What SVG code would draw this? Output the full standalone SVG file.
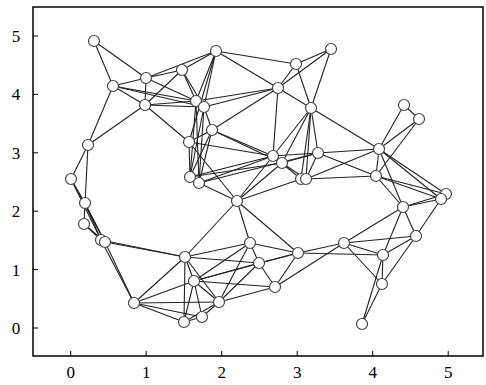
<svg xmlns="http://www.w3.org/2000/svg" width="486" height="385" viewBox="0 0 486 385">
<style>
.e{stroke:#222;stroke-width:1.1;fill:none}
.n{fill:#fff;stroke:#444;stroke-width:1.2}
.ax{stroke:#000;stroke-width:1.5;fill:none}
.tk{stroke:#000;stroke-width:1}
.lb{font-family:"Liberation Serif","Times New Roman",serif;font-size:17px;fill:#000}
</style>
<rect width="486" height="385" fill="#fff"/>
<g id="axes">
<rect class="ax" x="33" y="7" width="450" height="349"/>
<path class="tk" d="M70.7 356v-5M146.2 356v-5M221.7 356v-5M297.2 356v-5M372.7 356v-5M448.2 356v-5M33 328h5M33 269.6h5M33 211.2h5M33 152.8h5M33 94.4h5M33 36h5"/>
<g class="lb" text-anchor="middle">
<text x="70.7" y="378">0</text><text x="146.2" y="378">1</text><text x="221.7" y="378">2</text><text x="297.2" y="378">3</text><text x="372.7" y="378">4</text><text x="448.2" y="378">5</text>
<text x="16" y="334">0</text><text x="16" y="275.6">1</text><text x="16" y="217.2">2</text><text x="16" y="158.8">3</text><text x="16" y="100.4">4</text><text x="16" y="42">5</text>
</g>
</g>
<g id="connectors" class="e">
<line x1="94" y1="41" x2="113" y2="86"/>
<line x1="94" y1="41" x2="146" y2="78"/>
<line x1="146" y1="78" x2="113" y2="86"/>
<line x1="146" y1="78" x2="182" y2="70"/>
<line x1="146" y1="78" x2="216" y2="51"/>
<line x1="146" y1="78" x2="145" y2="105"/>
<line x1="146" y1="78" x2="196" y2="101"/>
<line x1="113" y1="86" x2="145" y2="105"/>
<line x1="113" y1="86" x2="196" y2="101"/>
<line x1="113" y1="86" x2="204" y2="107"/>
<line x1="113" y1="86" x2="88" y2="145"/>
<line x1="182" y1="70" x2="216" y2="51"/>
<line x1="182" y1="70" x2="145" y2="105"/>
<line x1="182" y1="70" x2="196" y2="101"/>
<line x1="182" y1="70" x2="204" y2="107"/>
<line x1="216" y1="51" x2="296" y2="64"/>
<line x1="216" y1="51" x2="278" y2="88"/>
<line x1="216" y1="51" x2="196" y2="101"/>
<line x1="216" y1="51" x2="204" y2="107"/>
<line x1="216" y1="51" x2="189" y2="142"/>
<line x1="296" y1="64" x2="331" y2="49"/>
<line x1="296" y1="64" x2="278" y2="88"/>
<line x1="296" y1="64" x2="311" y2="108"/>
<line x1="331" y1="49" x2="278" y2="88"/>
<line x1="331" y1="49" x2="311" y2="108"/>
<line x1="145" y1="105" x2="196" y2="101"/>
<line x1="145" y1="105" x2="204" y2="107"/>
<line x1="145" y1="105" x2="189" y2="142"/>
<line x1="145" y1="105" x2="88" y2="145"/>
<line x1="196" y1="101" x2="204" y2="107"/>
<line x1="196" y1="101" x2="278" y2="88"/>
<line x1="196" y1="101" x2="190" y2="177"/>
<line x1="196" y1="101" x2="199" y2="183"/>
<line x1="204" y1="107" x2="278" y2="88"/>
<line x1="204" y1="107" x2="212" y2="130"/>
<line x1="204" y1="107" x2="190" y2="177"/>
<line x1="204" y1="107" x2="199" y2="183"/>
<line x1="278" y1="88" x2="311" y2="108"/>
<line x1="278" y1="88" x2="212" y2="130"/>
<line x1="278" y1="88" x2="273" y2="156"/>
<line x1="311" y1="108" x2="273" y2="156"/>
<line x1="311" y1="108" x2="282" y2="163"/>
<line x1="311" y1="108" x2="318" y2="153"/>
<line x1="311" y1="108" x2="301" y2="179"/>
<line x1="311" y1="108" x2="306" y2="179"/>
<line x1="311" y1="108" x2="379" y2="149"/>
<line x1="212" y1="130" x2="189" y2="142"/>
<line x1="212" y1="130" x2="190" y2="177"/>
<line x1="212" y1="130" x2="199" y2="183"/>
<line x1="212" y1="130" x2="273" y2="156"/>
<line x1="212" y1="130" x2="282" y2="163"/>
<line x1="189" y1="142" x2="190" y2="177"/>
<line x1="189" y1="142" x2="237" y2="201"/>
<line x1="189" y1="142" x2="273" y2="156"/>
<line x1="88" y1="145" x2="71" y2="179"/>
<line x1="88" y1="145" x2="85" y2="203"/>
<line x1="71" y1="179" x2="85" y2="203"/>
<line x1="71" y1="179" x2="101" y2="240"/>
<line x1="71" y1="179" x2="105" y2="242"/>
<line x1="85" y1="203" x2="84" y2="224"/>
<line x1="85" y1="203" x2="101" y2="240"/>
<line x1="85" y1="203" x2="105" y2="242"/>
<line x1="84" y1="224" x2="101" y2="240"/>
<line x1="84" y1="224" x2="105" y2="242"/>
<line x1="101" y1="240" x2="185" y2="257"/>
<line x1="101" y1="240" x2="134" y2="303"/>
<line x1="105" y1="242" x2="134" y2="303"/>
<line x1="105" y1="242" x2="185" y2="257"/>
<line x1="190" y1="177" x2="199" y2="183"/>
<line x1="190" y1="177" x2="273" y2="156"/>
<line x1="190" y1="177" x2="282" y2="163"/>
<line x1="199" y1="183" x2="237" y2="201"/>
<line x1="199" y1="183" x2="273" y2="156"/>
<line x1="199" y1="183" x2="318" y2="153"/>
<line x1="237" y1="201" x2="273" y2="156"/>
<line x1="237" y1="201" x2="282" y2="163"/>
<line x1="237" y1="201" x2="301" y2="179"/>
<line x1="237" y1="201" x2="250" y2="243"/>
<line x1="237" y1="201" x2="298" y2="253"/>
<line x1="237" y1="201" x2="185" y2="257"/>
<line x1="273" y1="156" x2="282" y2="163"/>
<line x1="273" y1="156" x2="318" y2="153"/>
<line x1="273" y1="156" x2="301" y2="179"/>
<line x1="282" y1="163" x2="318" y2="153"/>
<line x1="282" y1="163" x2="306" y2="179"/>
<line x1="318" y1="153" x2="306" y2="179"/>
<line x1="318" y1="153" x2="379" y2="149"/>
<line x1="318" y1="153" x2="376" y2="176"/>
<line x1="301" y1="179" x2="306" y2="179"/>
<line x1="306" y1="179" x2="379" y2="149"/>
<line x1="306" y1="179" x2="376" y2="176"/>
<line x1="379" y1="149" x2="376" y2="176"/>
<line x1="379" y1="149" x2="404" y2="105"/>
<line x1="379" y1="149" x2="419" y2="119"/>
<line x1="379" y1="149" x2="446" y2="194"/>
<line x1="379" y1="149" x2="441" y2="199"/>
<line x1="379" y1="149" x2="403" y2="207"/>
<line x1="376" y1="176" x2="419" y2="119"/>
<line x1="376" y1="176" x2="446" y2="194"/>
<line x1="376" y1="176" x2="441" y2="199"/>
<line x1="376" y1="176" x2="403" y2="207"/>
<line x1="404" y1="105" x2="419" y2="119"/>
<line x1="446" y1="194" x2="441" y2="199"/>
<line x1="446" y1="194" x2="403" y2="207"/>
<line x1="441" y1="199" x2="403" y2="207"/>
<line x1="441" y1="199" x2="416" y2="236"/>
<line x1="403" y1="207" x2="416" y2="236"/>
<line x1="403" y1="207" x2="344" y2="243"/>
<line x1="403" y1="207" x2="383" y2="255"/>
<line x1="416" y1="236" x2="344" y2="243"/>
<line x1="416" y1="236" x2="383" y2="255"/>
<line x1="416" y1="236" x2="382" y2="284"/>
<line x1="344" y1="243" x2="383" y2="255"/>
<line x1="344" y1="243" x2="382" y2="284"/>
<line x1="344" y1="243" x2="298" y2="253"/>
<line x1="344" y1="243" x2="275" y2="287"/>
<line x1="383" y1="255" x2="382" y2="284"/>
<line x1="383" y1="255" x2="362" y2="324"/>
<line x1="382" y1="284" x2="362" y2="324"/>
<line x1="383" y1="255" x2="298" y2="253"/>
<line x1="250" y1="243" x2="259" y2="263"/>
<line x1="250" y1="243" x2="298" y2="253"/>
<line x1="250" y1="243" x2="185" y2="257"/>
<line x1="250" y1="243" x2="194" y2="281"/>
<line x1="250" y1="243" x2="219" y2="302"/>
<line x1="259" y1="263" x2="298" y2="253"/>
<line x1="259" y1="263" x2="275" y2="287"/>
<line x1="259" y1="263" x2="185" y2="257"/>
<line x1="259" y1="263" x2="194" y2="281"/>
<line x1="259" y1="263" x2="219" y2="302"/>
<line x1="298" y1="253" x2="275" y2="287"/>
<line x1="298" y1="253" x2="194" y2="281"/>
<line x1="275" y1="287" x2="194" y2="281"/>
<line x1="275" y1="287" x2="219" y2="302"/>
<line x1="185" y1="257" x2="194" y2="281"/>
<line x1="185" y1="257" x2="219" y2="302"/>
<line x1="185" y1="257" x2="184" y2="322"/>
<line x1="185" y1="257" x2="134" y2="303"/>
<line x1="194" y1="281" x2="219" y2="302"/>
<line x1="194" y1="281" x2="202" y2="317"/>
<line x1="194" y1="281" x2="184" y2="322"/>
<line x1="194" y1="281" x2="134" y2="303"/>
<line x1="219" y1="302" x2="202" y2="317"/>
<line x1="219" y1="302" x2="184" y2="322"/>
<line x1="219" y1="302" x2="134" y2="303"/>
<line x1="202" y1="317" x2="184" y2="322"/>
<line x1="184" y1="322" x2="134" y2="303"/>
<line x1="202" y1="317" x2="134" y2="303"/>
</g>
<g id="nodes" class="n">
<circle id="n1" cx="94" cy="41" r="5.5"/>
<circle id="n2" cx="146" cy="78" r="5.5"/>
<circle id="n3" cx="113" cy="86" r="5.5"/>
<circle id="n4" cx="182" cy="70" r="5.5"/>
<circle id="n5" cx="216" cy="51" r="5.5"/>
<circle id="n6" cx="296" cy="64" r="5.5"/>
<circle id="n7" cx="331" cy="49" r="5.5"/>
<circle id="n8" cx="145" cy="105" r="5.5"/>
<circle id="n9" cx="196" cy="101" r="5.5"/>
<circle id="n10" cx="204" cy="107" r="5.5"/>
<circle id="n11" cx="278" cy="88" r="5.5"/>
<circle id="n12" cx="311" cy="108" r="5.5"/>
<circle id="n13" cx="212" cy="130" r="5.5"/>
<circle id="n14" cx="189" cy="142" r="5.5"/>
<circle id="n15" cx="88" cy="145" r="5.5"/>
<circle id="n16" cx="71" cy="179" r="5.5"/>
<circle id="n17" cx="85" cy="203" r="5.5"/>
<circle id="n18" cx="84" cy="224" r="5.5"/>
<circle id="n19" cx="101" cy="240" r="5.5"/>
<circle id="n20" cx="105" cy="242" r="5.5"/>
<circle id="n21" cx="190" cy="177" r="5.5"/>
<circle id="n22" cx="199" cy="183" r="5.5"/>
<circle id="n23" cx="237" cy="201" r="5.5"/>
<circle id="n24" cx="273" cy="156" r="5.5"/>
<circle id="n25" cx="282" cy="163" r="5.5"/>
<circle id="n26" cx="318" cy="153" r="5.5"/>
<circle id="n27" cx="301" cy="179" r="5.5"/>
<circle id="n28" cx="306" cy="179" r="5.5"/>
<circle id="n29" cx="379" cy="149" r="5.5"/>
<circle id="n30" cx="376" cy="176" r="5.5"/>
<circle id="n31" cx="404" cy="105" r="5.5"/>
<circle id="n32" cx="419" cy="119" r="5.5"/>
<circle id="n33" cx="446" cy="194" r="5.5"/>
<circle id="n34" cx="441" cy="199" r="5.5"/>
<circle id="n35" cx="403" cy="207" r="5.5"/>
<circle id="n36" cx="416" cy="236" r="5.5"/>
<circle id="n37" cx="344" cy="243" r="5.5"/>
<circle id="n38" cx="383" cy="255" r="5.5"/>
<circle id="n39" cx="382" cy="284" r="5.5"/>
<circle id="n40" cx="362" cy="324" r="5.5"/>
<circle id="n41" cx="250" cy="243" r="5.5"/>
<circle id="n42" cx="259" cy="263" r="5.5"/>
<circle id="n43" cx="298" cy="253" r="5.5"/>
<circle id="n44" cx="275" cy="287" r="5.5"/>
<circle id="n45" cx="185" cy="257" r="5.5"/>
<circle id="n46" cx="194" cy="281" r="5.5"/>
<circle id="n47" cx="219" cy="302" r="5.5"/>
<circle id="n48" cx="202" cy="317" r="5.5"/>
<circle id="n49" cx="184" cy="322" r="5.5"/>
<circle id="n50" cx="134" cy="303" r="5.5"/>
</g>
</svg>
